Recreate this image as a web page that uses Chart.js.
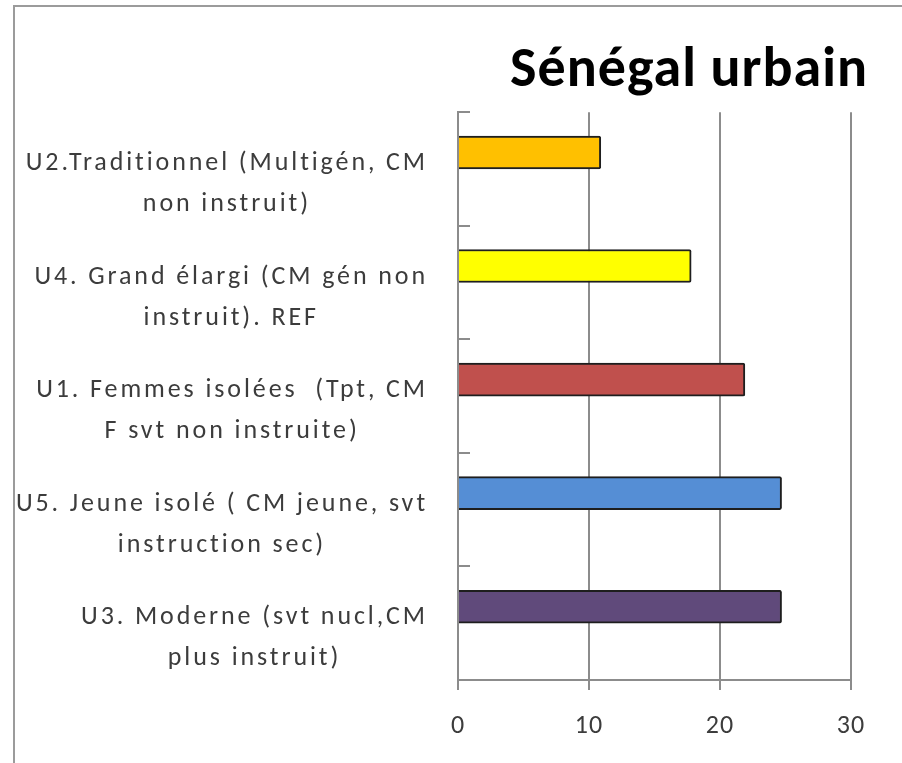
<!DOCTYPE html>
<html><head><meta charset="utf-8">
<script src="https://cdn.jsdelivr.net/npm/chart.js@4/dist/chart.umd.min.js"></script>
<style>
html,body{margin:0;padding:0;background:#fff;}
#wrap{position:relative;width:902px;height:763px;overflow:hidden;}
#frame{position:absolute;left:13px;top:5px;width:900px;height:800px;border-left:2px solid #9b9b9b;border-top:2px solid #9b9b9b;pointer-events:none;}
canvas{position:absolute;left:0;top:0;}
</style></head><body>
<div id="wrap"><canvas id="c" width="902" height="763"></canvas><div id="frame"></div></div>
<script>
const chartTitle = 'Sénégal urbain';
const categories = [
  ['U2.Traditionnel (Multigén, CM', 'non instruit)'],
  ['U4. Grand élargi (CM gén non', 'instruit). REF'],
  ['U1. Femmes isolées  (Tpt, CM', 'F svt non instruite)'],
  ['U5. Jeune isolé ( CM jeune, svt', 'instruction sec)'],
  ['U3. Moderne (svt nucl,CM', 'plus instruit)']
];
const values = [10.9, 17.8, 21.9, 24.7, 24.7];
const emptySeries = [null, null, null, null, null];
const barColors = ['#FFC000', '#FFFF00', '#C0504D', '#558ED5', '#604A7B'];
const xMin = 0, xMax = 30, xStep = 10;

const FONT_FAMILY = 'Carlito, Calibri, Lato, sans-serif';
const LABEL_SIZE = 26;
const TEXT_COLOR = '#3c3c3c';
const AXIS_COLOR = '#8c8c8c';

const yLabelPlugin = {
  id: 'yLabels',
  afterDraw(chart) {
    const ctx = chart.ctx, ys = chart.scales.y, ca = chart.chartArea;
    const step = ys.getPixelForValue(1) - ys.getPixelForValue(0);
    ctx.save();
    ctx.font = LABEL_SIZE + 'px ' + FONT_FAMILY;
    ctx.letterSpacing = '2.9px';
    ctx.fillStyle = TEXT_COLOR;
    ctx.textAlign = 'center';
    ctx.textBaseline = 'middle';
    categories.forEach((lines, i) => {
      const w = Math.max(...lines.map(l => ctx.measureText(l).width));
      const cx = ca.left - 30 - w / 2;
      const cy = ys.getPixelForValue(i) + 15;
      lines.forEach((l, k) => ctx.fillText(l, cx, cy + (k - (lines.length - 1) / 2) * 41));
    });
    ctx.strokeStyle = AXIS_COLOR;
    ctx.lineWidth = 2;
    for (let i = 0; i < categories.length; i++) {
      const p = Math.round(ys.getPixelForValue(i) - step / 2);
      ctx.beginPath();
      ctx.moveTo(ca.left, p);
      ctx.lineTo(ca.left + 12, p);
      ctx.stroke();
    }
    ctx.restore();
  }
};

const titleSpacingPlugin = {
  id: 'titleSpacing',
  beforeDraw(chart) { chart.ctx.letterSpacing = '1px'; },
  beforeDatasetsDraw(chart) { chart.ctx.letterSpacing = '0px'; }
};

new Chart(document.getElementById('c'), {
  type: 'bar',
  data: {
    labels: categories,
    datasets: [
      { data: values, backgroundColor: barColors, borderColor: '#1e1e1e', borderWidth: 2, borderRadius: 2, borderSkipped: 'start', barThickness: 33 },
      { data: emptySeries, barThickness: 33 }
    ]
  },
  options: {
    indexAxis: 'y',
    responsive: false,
    animation: false,
    layout: { padding: { left: 0, right: 34, top: 0, bottom: 0 } },
    plugins: {
      legend: { display: false },
      tooltip: { enabled: false },
      title: {
        display: true, text: chartTitle, align: 'end', color: '#000',
        font: { family: FONT_FAMILY, size: 56, weight: 'bold' },
        padding: { top: 38, bottom: 7 }
      }
    },
    scales: {
      x: {
        min: xMin, max: xMax,
        ticks: { stepSize: xStep, color: TEXT_COLOR, font: { family: FONT_FAMILY, size: 26 }, padding: 21 },
        grid: { color: AXIS_COLOR, lineWidth: 2, tickLength: 10 },
        border: { color: AXIS_COLOR, width: 2 },
        afterFit(s) { s.height = 83; }
      },
      y: {
        ticks: { display: false },
        grid: { display: false },
        border: { color: AXIS_COLOR, width: 2 },
        afterFit(s) { s.width = 458; }
      },
      rightGap: {
        type: 'linear', position: 'right', display: true,
        ticks: { display: false },
        grid: { display: false, drawTicks: false },
        border: { display: false },
        afterFit(s) { s.width = 17; }
      }
    }
  },
  plugins: [titleSpacingPlugin, yLabelPlugin]
});
</script>
</body></html>
